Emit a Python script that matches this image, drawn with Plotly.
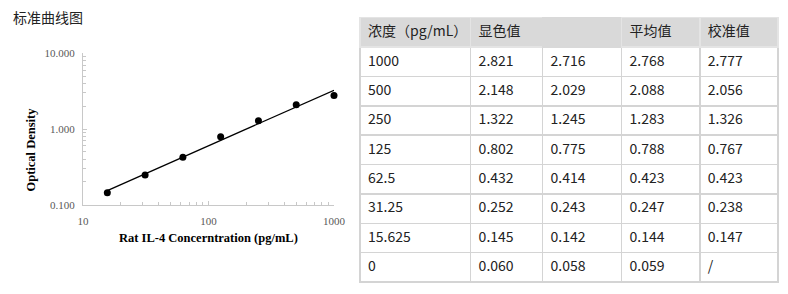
import numpy as np
import plotly.graph_objects as go

# ---- data ----
conc = [1000, 500, 250, 125, 62.5, 31.25, 15.625, 0]
conc_labels = ["1000", "500", "250", "125", "62.5", "31.25", "15.625", "0"]
od1 = ["2.821", "2.148", "1.322", "0.802", "0.432", "0.252", "0.145", "0.060"]
od2 = ["2.716", "2.029", "1.245", "0.775", "0.414", "0.243", "0.142", "0.058"]
mean_od = ["2.768", "2.088", "1.283", "0.788", "0.423", "0.247", "0.144", "0.059"]
calib = ["2.777", "2.056", "1.326", "0.767", "0.423", "0.238", "0.147", "/"]
header_labels = ["浓度（pg/mL）", "显色值", "", "平均值", "校准值"]

x_tickvals = [10, 100, 1000]
x_ticktext = ["10", "100", "1000"]
y_tickvals = [0.1, 1, 10]
y_ticktext = ["0.100", "1.000", "10.000"]

W, H = 788, 294

# standard points (exclude zero concentration)
xs = np.array([c for c in conc if c > 0], dtype=float)
ys = np.array([float(m) for c, m in zip(conc, mean_od) if c > 0])

# power-law fit (linear in log-log)
slope, intercept = np.polyfit(np.log10(xs), np.log10(ys), 1)
fit_x = np.array([xs.min(), xs.max()])
fit_y = 10 ** (intercept + slope * np.log10(fit_x))

fig = go.Figure()

fig.add_trace(go.Scatter(x=fit_x, y=fit_y, mode="lines",
                         line=dict(color="black", width=1.3),
                         showlegend=False, hoverinfo="skip", cliponaxis=False))
fig.add_trace(go.Scatter(x=xs, y=ys, mode="markers",
                         marker=dict(color="black", size=7),
                         showlegend=False, cliponaxis=False))

minor_x = [v * m for m in (10, 100) for v in range(2, 10)]
minor_y = [v * m for m in (0.1, 1) for v in range(2, 10)]

axis_col = "#c8c8c8"
tick_font = dict(family="Liberation Serif, Times New Roman, serif", size=11, color="#595959")

def px_x(p):
    return p / W

def px_y(p):
    return 1 - p / H

fig.update_layout(
    width=W, height=H,
    margin=dict(l=0, r=0, t=0, b=0, autoexpand=False),
    paper_bgcolor="white", plot_bgcolor="white",
    xaxis=dict(
        type="log", range=[1, 3], domain=[px_x(83), px_x(334)],
        automargin=False,
        showgrid=False, zeroline=False,
        showline=True, linecolor=axis_col, linewidth=1,
        tickmode="array", tickvals=x_tickvals, ticktext=x_ticktext,
        ticks="inside", ticklen=4, tickcolor=axis_col,
        tickfont=tick_font, ticklabelstandoff=6,
        minor=dict(tickmode="array", tickvals=minor_x, ticks="inside",
                   ticklen=3, tickcolor=axis_col, showgrid=False),
        anchor="y",
    ),
    yaxis=dict(
        type="log", range=[-1, 1], domain=[px_y(204.7), px_y(53.3)],
        automargin=False,
        showgrid=False, zeroline=False,
        showline=True, linecolor=axis_col, linewidth=1,
        tickmode="array", tickvals=y_tickvals, ticktext=y_ticktext,
        ticks="inside", ticklen=4, tickcolor=axis_col,
        tickfont=tick_font, ticklabelstandoff=5,
        minor=dict(tickmode="array", tickvals=minor_y, ticks="inside",
                   ticklen=3, tickcolor=axis_col, showgrid=False),
        anchor="x",
    ),
)

title_font = dict(family="Liberation Serif, Times New Roman, serif", size=12.5, color="black")
fig.add_annotation(text="<b>Rat IL-4 Concerntration (pg/mL)</b>", xref="paper", yref="paper",
                   x=px_x(208.5), y=px_y(237.5), xanchor="center", yanchor="middle",
                   showarrow=False, font=title_font)
fig.add_annotation(text="<b>Optical Density</b>", xref="paper", yref="paper",
                   x=px_x(30.5), y=px_y(150), xanchor="center", yanchor="middle",
                   textangle=-90, showarrow=False, font=title_font)
fig.add_annotation(text="标准曲线图", xref="paper", yref="paper",
                   x=px_x(11), y=px_y(17), xanchor="left", yanchor="middle",
                   showarrow=False,
                   font=dict(family="Noto Sans CJK SC", size=14, color="#222222"))

# ---- table ----
tbl_font = dict(family="Noto Sans CJK SC", size=14, color="#222222")
line_col = "#d4d4d4"
hdr_fill = "#d9d9d9"
hdr_line = "#e4e4e4"
col_px = [110.7, 72, 79, 78.3, 78.3]
x0, x1 = 360, 778.3
top, hdr_bot, bot = 17.3, 47.0, 282.0
row_h = (bot - hdr_bot) / len(conc)

fig.add_trace(go.Table(
    domain=dict(x=[px_x(x0), px_x(x1)], y=[0.0, px_y(top)]),
    columnwidth=col_px,
    header=dict(values=header_labels, fill_color=hdr_fill,
                line=dict(color=[hdr_line, hdr_line, hdr_fill, hdr_line, hdr_line], width=1.5),
                font=tbl_font, align="left", height=hdr_bot - top),
    cells=dict(values=[conc_labels, od1, od2, mean_od, calib],
               fill_color="white",
               line=dict(color=line_col, width=1.5),
               font=tbl_font, align="left", height=row_h),
))

fig.write_html("out.html")
